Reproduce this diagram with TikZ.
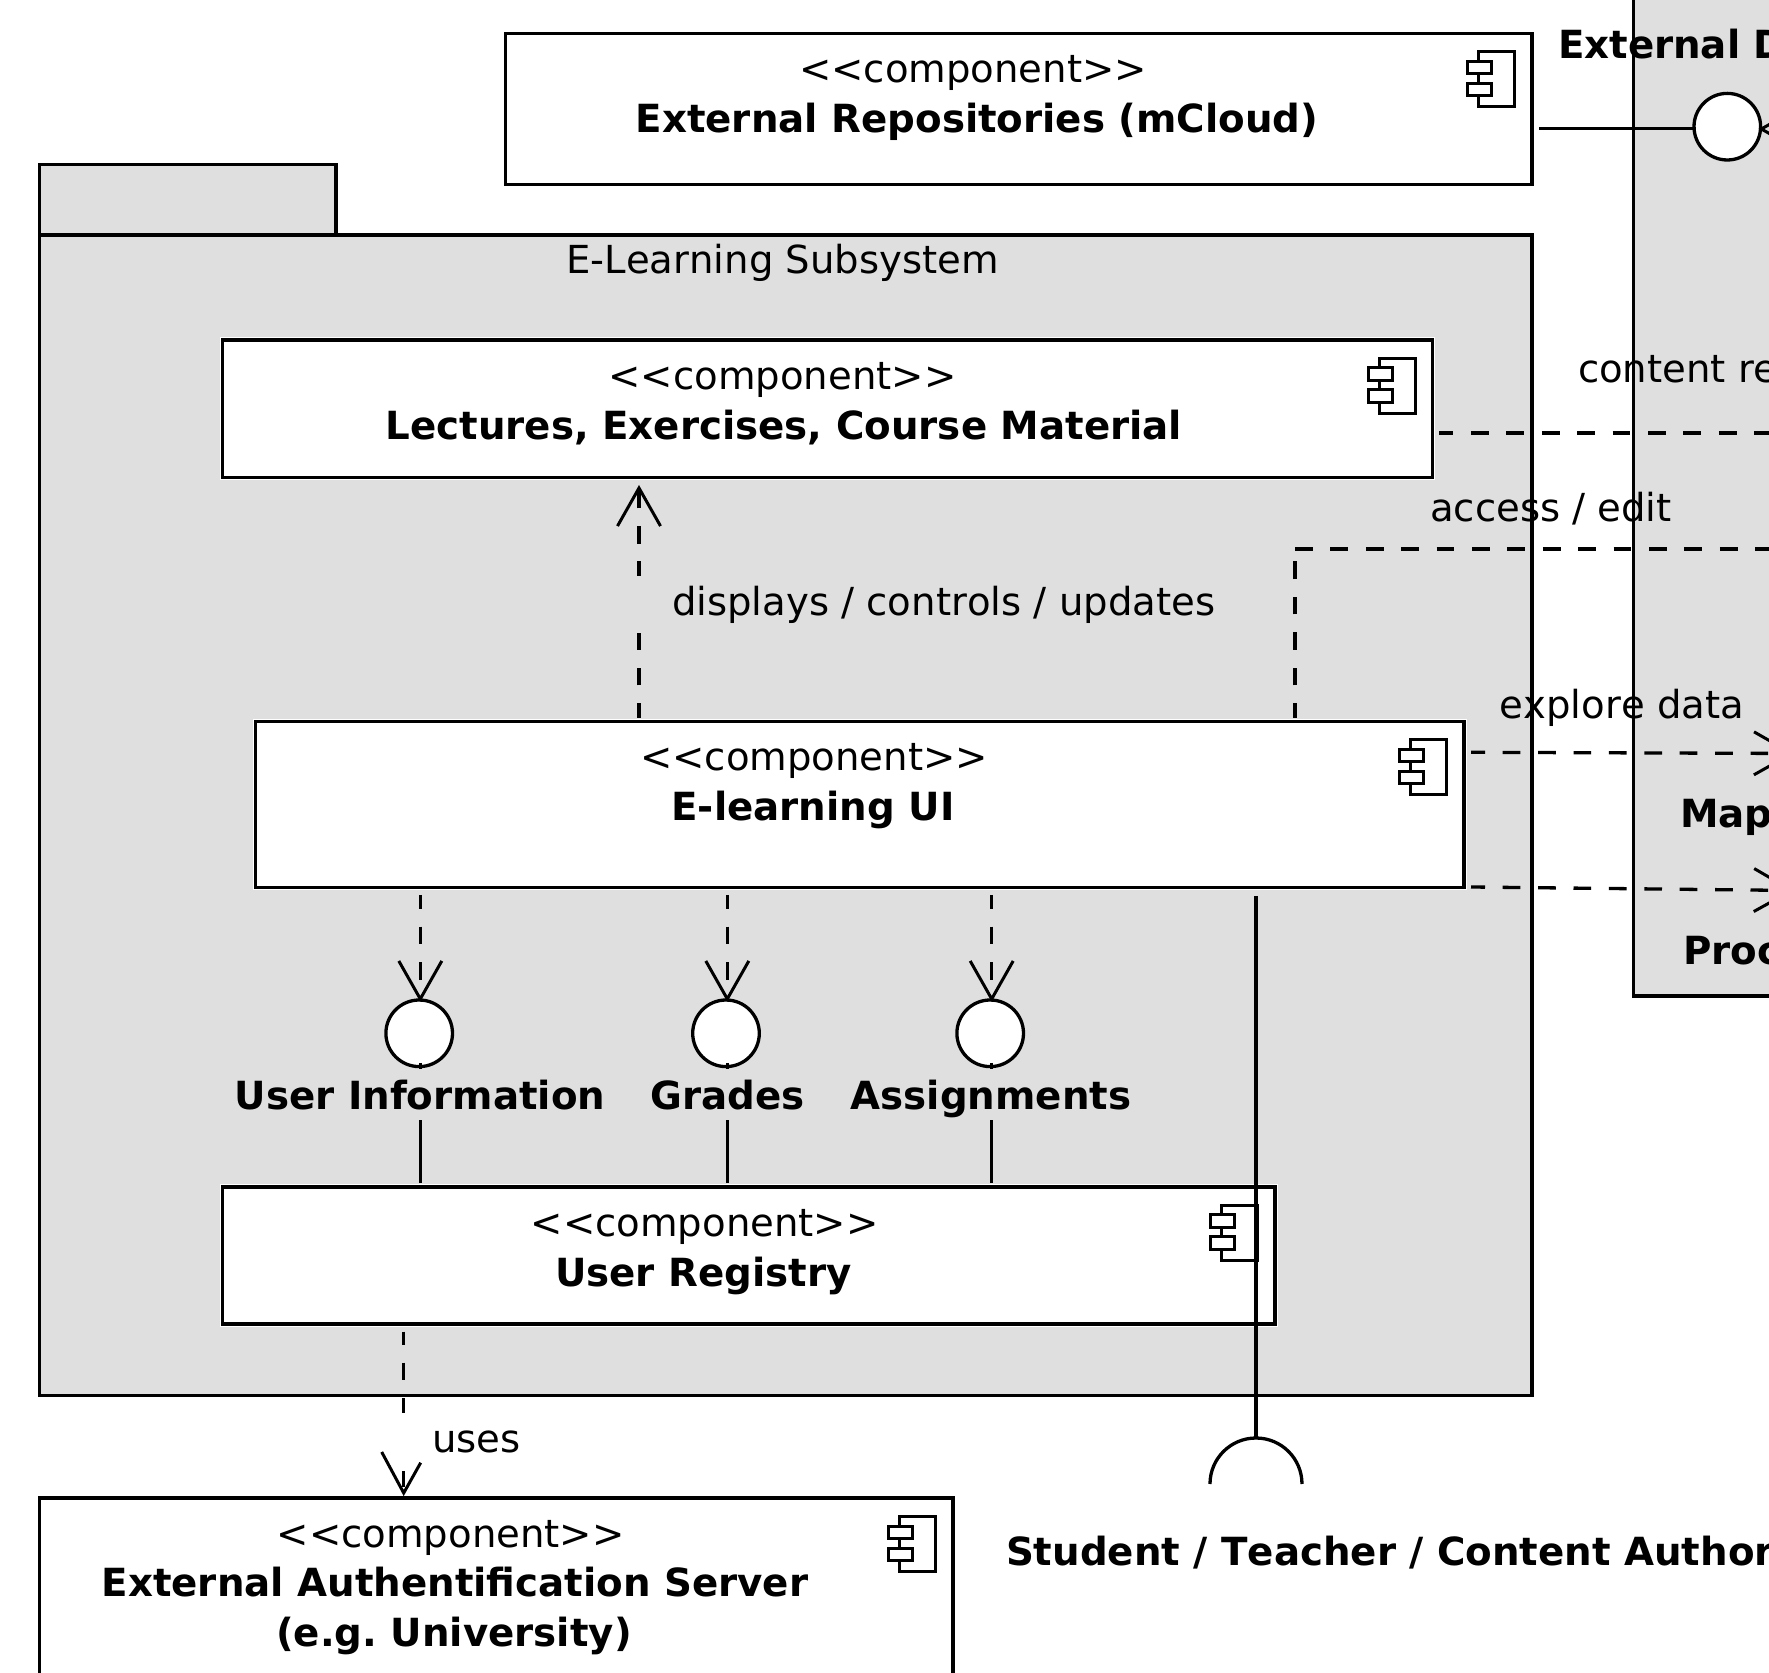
\documentclass[tikz,border=0pt]{standalone}
\usepackage{fontspec}
\setmainfont[Kerning=Off]{DejaVu Sans}
\usetikzlibrary{arrows.meta,calc}
\definecolor{pkgfill}{HTML}{DFDFDF}
\newcommand{\stereo}{<{}<component>{}>}
\tikzset{
  x=0.5pt,y=-0.5pt,
  every node/.style={inner sep=0pt,outer sep=0pt},
  ln/.style={line width=1.65pt,black,line join=miter},
  pkg/.style={ln,fill=pkgfill},
  combox/.style={ln,draw,fill=white,anchor=north west,preaction={draw=white,line width=2.5pt}},
  icon/.style={line width=1.5pt,black,fill=white},
  circ/.style={ln,draw,fill=white,circle,minimum size=33.3pt},
  dep/.style={ln,dash pattern=on 8.85pt off 8.85pt},
  opn/.style={-{Straight Barb[length=19pt,width=21.5pt,line width=1.5pt]}},
  txt/.style={anchor=base,font=\fontsize{19.3pt}{23pt}\selectfont},
  btxt/.style={anchor=base,font=\fontsize{19.38pt}{23pt}\selectfont\bfseries},
}
\newcommand{\umlcomp}[5]{%
  \node[combox,minimum width={(#4-#2)*0.5pt},minimum height={(#5-#3)*0.5pt}] (#1) at (#2,#3) {};
  \begin{scope}[shift={(#1.north east)}]
    \draw[icon] (-53.5,18.5) rectangle (-17.5,73.5);
    \draw[icon] (-64.5,28) rectangle (-40.5,40.5);
    \draw[icon] (-64.5,50) rectangle (-40.5,62.5);
  \end{scope}}
\begin{document}
\begin{tikzpicture}
\frenchspacing
\useasboundingbox (0,0) rectangle (1769,1673);
\clip (0,0) rectangle (1769,1673);
\fill[white] (0,0) rectangle (1769,1673);
% packages
\draw[pkg] (1633.5,-20) rectangle (1820,996);
\draw[pkg] (39.5,164.5) rectangle (336,235);
\draw[pkg] (39.5,235) rectangle (1532,1395.5);
% components
\umlcomp{repo}{505.5}{33.5}{1532}{184.5}
\umlcomp{lect}{222.5}{340}{1432.5}{477.5}
\umlcomp{ui}{255.5}{721.5}{1464}{887.5}
\umlcomp{reg}{222.5}{1187}{1275}{1324}
\umlcomp{auth}{39.5}{1498}{953}{1720}
% interface circles
\node[circ] (cext) at (1727.3,126.7) {};
\node[circ] (cuser) at (419.2,1033.3) {};
\node[circ] (cgrad) at (726,1033.3) {};
\node[circ] (cassi) at (990.2,1033.3) {};
% free ends
\coordinate (repoOut) at (1539,128.3);
\coordinate (extIn) at (1696,128.3);
\coordinate (extSrc) at (1903.6,129);
\coordinate (extTip) at (1758.3,129);
\coordinate (lectOut) at (1439.3,433);
\coordinate (lectEnd) at (1800,433);
\coordinate (accA) at (1295,718);
\coordinate (accB) at (1295,549);
\coordinate (accC) at (1800,549);
\coordinate (dispA) at (639,718);
\coordinate (dispB) at (639,485);
\coordinate (mapA) at (1471,752.3);
\coordinate (mapB) at (1795,753.5);
\coordinate (procA) at (1471,887);
\coordinate (procB) at (1795,890.5);
\coordinate (hA) at (1256,896);
\coordinate (hB) at (1256,1438);
% connectors
\draw[ln] (repoOut) -- (extIn);
\draw[dep,opn,dash phase=0pt] (extSrc) -- (extTip);
\draw[dep,dash phase=1.85pt] (lectOut) -- (lectEnd);
\draw[dep,dash phase=1.35pt] (accA) -- (accB);
\draw[dep,dash phase=0pt] (accB) -- (accC);
\draw[dep,opn,dash phase=1.35pt] (dispA) -- (dispB);
\draw[dep,opn,dash phase=1.85pt] (mapA) -- (mapB);
\draw[dep,opn,dash phase=1.85pt] (procA) -- (procB);
\foreach \c/\x in {cuser/420.3,cgrad/727.3,cassi/991.7}{
  \draw[dep,opn,dash phase=1.85pt] (\x,895) -- (\x,1002);
  \draw[ln] (\x,1063) -- (\x,1183);
}
\draw[dep,dash phase=2.2pt] (403.7,1331.7) -- (403.7,1490);
\coordinate (wingA) at (381.7,1452);
\coordinate (authTip) at (403.7,1493);
\coordinate (wingB) at (420.7,1462.7);
\draw[ln] (hA) -- (hB);
\draw[ln] (1210,1484) arc[start angle=180,end angle=360,radius=46];
% labels
\node[txt] (t1) at (973,83) {\stereo};
\node[btxt] (t2) at (977,132.5) {External Repositories (mCloud)};
\node[txt] (t3) at (782.5,274) {E-Learning Subsystem};
\node[txt] (t4) at (782.5,389.8) {\stereo};
\node[btxt] (t5) at (784,439.5) {Lectures, Exercises, Course Material};
\node[txt] (t6) at (814,771) {\stereo};
\node[btxt] (t7) at (813,821) {E-learning UI};
\node[txt] (t8) at (704.6,1237) {\stereo};
\node[btxt] (t9) at (703.4,1286.5) {User Registry};
\node[txt] (t10) at (450.7,1547) {\stereo};
\node[btxt] (t11) at (455,1596) {External Authentification Server};
\node[btxt] (t12) at (454,1646.5) {(e.g. University)};
\node[btxt,fill=pkgfill,text height=20.5pt,text depth=5pt] (l1) at (420,1110) {User Information};
\node[btxt,fill=pkgfill,text height=20.5pt,text depth=5pt] (l2) at (727.7,1110) {Grades};
\node[btxt,fill=pkgfill,text height=20.5pt,text depth=5pt] (l3) at (991,1110) {Assignments};
\node[txt,anchor=base west,fill=pkgfill,text height=20pt,text depth=8.5pt] (l4) at (635,616) {\hspace*{18.5pt}displays / controls / updates};
\node[txt,anchor=base west,fill=white,text height=19.85pt,text depth=9.15pt] (l5) at (400,1452.7) {\hspace*{16pt}uses};
\node[txt] (l6) at (1551,522) {access / edit};
\node[txt,anchor=base west] (l7) at (1578,382.7) {content re};
\node[txt] (l8) at (1622,718.7) {explore data};
\node[btxt,anchor=base west] (l9) at (1558,59) {External D};
\node[btxt,anchor=base west] (l10) at (1680,827.7) {Map};
\node[btxt,anchor=base west] (l11) at (1683,965) {Proc};
\node[btxt,anchor=base west] (l12) at (1006,1565) {Student / Teacher / Content Author};
% open arrowhead of "uses" (over its label's background)
\draw[ln,line width=1.5pt] (wingA) -- (authTip) -- (wingB);
\end{tikzpicture}
\end{document}
